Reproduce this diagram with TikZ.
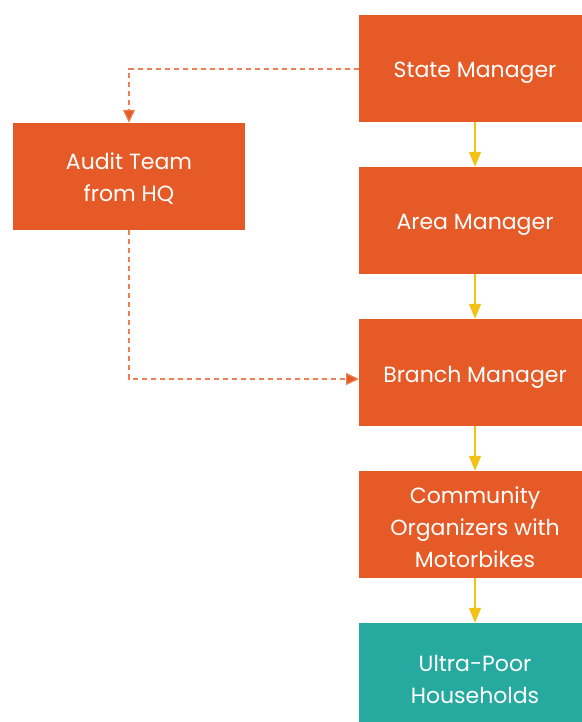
\documentclass[tikz,border=0pt]{standalone}
\usepackage{fontspec}
\setmainfont{Poppins}
\usetikzlibrary{arrows.meta}
\definecolor{orgbox}{HTML}{E55A26}
\definecolor{tealbox}{HTML}{26A99E}
\definecolor{yarrow}{HTML}{F2C316}
\definecolor{dashcol}{HTML}{EE7F50}
\begin{document}
\begin{tikzpicture}[x=1pt,y=-1pt,
  box/.style={fill=orgbox, minimum width=232pt, minimum height=107pt, inner sep=0pt},
  lbl/.style={text=white, inner sep=0pt, align=center, font=\fontsize{22}{32}\selectfont},
  flow/.style={draw=yarrow, line width=1.3pt, -{Triangle[length=15pt,width=12pt,fill=yarrow]}},
  audit/.style={draw=dashcol, line width=1.2pt, dash pattern=on 5pt off 4pt, -{Triangle[length=13pt,width=12pt,fill=orgbox]}}]
\useasboundingbox (0,0) rectangle (581,722);
\node[box] (state) at (475,68.5) {};
\node[box] (area) at (475,220.5) {};
\node[box] (branch) at (475,372.5) {};
\node[box] (comm) at (475,524.5) {};
\node[box, fill=tealbox] (ultra) at (475,676.5) {};
\node[box] (audit) at (129,176.5) {};
\node[lbl] (tstate) at ([yshift=-4.5pt]state.center) {State Manager};
\node[lbl] (tarea) at ([yshift=-4.5pt]area.center) {Area Manager};
\node[lbl] (tbranch) at ([yshift=-4.5pt]branch.center) {Branch Manager};
\node[lbl] (tcomm) at ([yshift=-2.5pt]comm.center) {Community\\Organizers with\\Motorbikes};
\node[lbl] (tultra) at ([yshift=-2.5pt]ultra.center) {Ultra-Poor\\Households};
\node[lbl] (taudit) at ([yshift=-2.5pt]audit.center) {Audit Team\\from HQ};
\coordinate (c1) at (129,69);
\coordinate (c2) at (129,379);
\coordinate (c3) at (359,379);
\draw[flow] (state) -- (area);
\draw[flow] (area) -- (branch);
\draw[flow] (branch) -- (comm);
\draw[flow] (comm) -- (ultra);
\draw[audit] (state.west |- c1) -- (c1) -- (audit.north);
\draw[audit] (audit.south) -- (c2) -- (c3);
\end{tikzpicture}
\end{document}
